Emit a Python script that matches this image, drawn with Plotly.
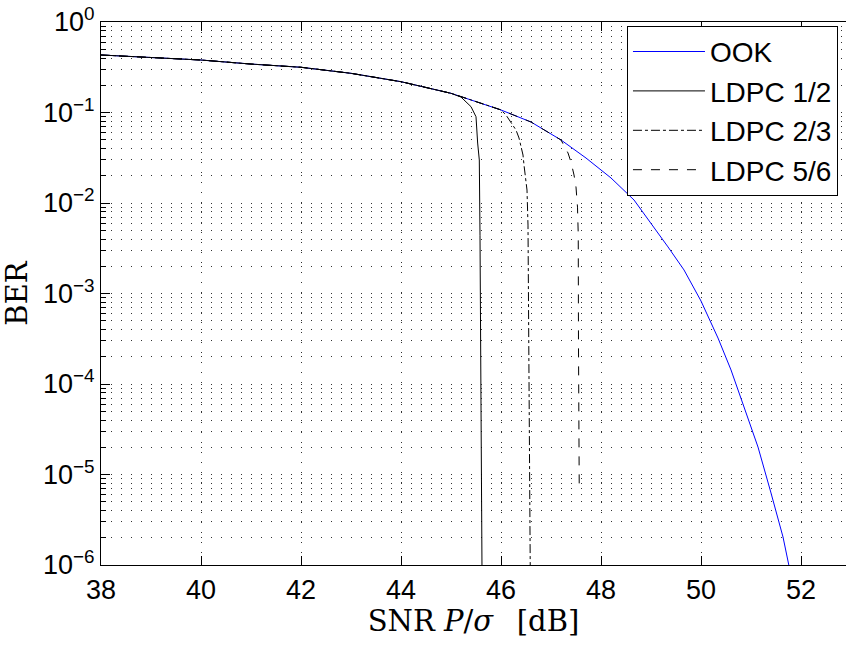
import plotly.graph_objects as go

# ---------------- data ----------------
snr_ook = [38, 39, 40, 41, 42, 43, 44, 45, 46, 46.6, 47.2, 47.7, 48, 48.2, 48.66, 49.06,
           49.34, 49.66, 50, 50.34, 50.6, 50.86, 51.14, 51.4, 51.64, 51.76]
ber_ook = [0.432, 0.407, 0.380, 0.343, 0.316, 0.271, 0.219, 0.163, 0.1066, 0.0785,
           0.0497, 0.0314, 0.0232, 0.0189, 0.0108, 0.00543, 0.00327, 0.00182, 8.26e-4,
           3.22e-4, 1.43e-4, 5.57e-5, 2.01e-5, 6.25e-6, 2.04e-6, 9.75e-7]

snr_ldpc12 = [38, 39, 40, 41, 42, 43, 44, 45, 45.2, 45.4, 45.5, 45.533, 45.566,
              45.58, 45.6, 45.62]
ber_ldpc12 = [0.432, 0.407, 0.380, 0.343, 0.316, 0.271, 0.219, 0.163, 0.148, 0.116,
              0.0898, 0.046, 0.0299, 0.0044, 6.6e-5, 9e-7]

snr_ldpc23 = [38, 39, 40, 41, 42, 43, 44, 45, 46, 46.1, 46.3, 46.36, 46.44, 46.46,
              46.52, 46.54, 46.555, 46.585]
ber_ldpc23 = [0.432, 0.407, 0.380, 0.343, 0.316, 0.271, 0.219, 0.163, 0.107, 0.0938,
              0.064, 0.0523, 0.0339, 0.0263, 0.0139, 0.0057, 2.7e-4, 9e-7]

snr_ldpc56 = [38, 39, 40, 41, 42, 43, 44, 45, 46, 46.6, 47.2, 47.34, 47.4, 47.46,
              47.5, 47.53, 47.545, 47.55, 47.565]
ber_ldpc56 = [0.432, 0.407, 0.380, 0.343, 0.316, 0.271, 0.219, 0.163, 0.1066, 0.0785,
              0.0497, 0.0357, 0.0284, 0.0204, 0.015, 0.009, 0.0045, 2.5e-4, 6.8e-6]

series_names = ["OOK", "LDPC 1/2", "LDPC 2/3", "LDPC 5/6"]

x_ticks = [38, 40, 42, 44, 46, 48, 50, 52]
y_ticks = [1e-6, 1e-5, 1e-4, 1e-3, 1e-2, 1e-1, 1e0]
y_ticktext = ["10<sup>\u22126</sup>", "10<sup>\u22125</sup>", "10<sup>\u22124</sup>",
              "10<sup>\u22123</sup>", "10<sup>\u22122</sup>", "10<sup>\u22121</sup>",
              "10<sup>0</sup>"]
y_minor = [m * 10.0 ** e for e in range(-6, 0) for m in range(2, 10)]

# ---------------- figure ----------------
fig = go.Figure()
fig.add_trace(go.Scatter(x=snr_ook, y=ber_ook, mode="lines", name=series_names[0],
                         line=dict(color="#0000ff", width=1)))
fig.add_trace(go.Scatter(x=snr_ldpc12, y=ber_ldpc12, mode="lines", name=series_names[1],
                         line=dict(color="#000000", width=1)))
fig.add_trace(go.Scatter(x=snr_ldpc23, y=ber_ldpc23, mode="lines", name=series_names[2],
                         line=dict(color="#000000", width=1, dash="dashdot")))
fig.add_trace(go.Scatter(x=snr_ldpc56, y=ber_ldpc56, mode="lines", name=series_names[3],
                         line=dict(color="#000000", width=1, dash="dash")))

grid_dash = "1px,9px"
grid_color = "#333333"
tick_font = dict(family="Liberation Sans, Arial, sans-serif", size=27, color="#000")
title_font = dict(family="DejaVu Serif, serif", size=29, color="#000")

fig.update_layout(
    width=846, height=645,
    margin=dict(l=101, r=0, t=22, b=80, autoexpand=False),
    plot_bgcolor="white", paper_bgcolor="white",
    showlegend=True,
    legend=dict(x=0.706, y=0.993, xanchor="left", yanchor="top",
                bgcolor="white", bordercolor="#000", borderwidth=1,
                font=dict(family="Liberation Sans, Arial, sans-serif", size=28, color="#000"),
                itemwidth=72),
    xaxis=dict(
        range=[38, 52.9], tickmode="array", tickvals=x_ticks,
        ticks="inside", ticklen=9, tickcolor="#000", tickwidth=1,
        showline=True, linecolor="#000", linewidth=1.2, mirror="ticks",
        showgrid=True, gridcolor=grid_color, gridwidth=1, griddash=grid_dash,
        zeroline=False, tickfont=tick_font, ticklabelstandoff=0,
        title=dict(text="SNR <i>P</i>/<i>\u03c3</i>\u2002 [dB]", font=title_font, standoff=4),
    ),
    yaxis=dict(
        type="log", range=[-6, 0], tickmode="array", tickvals=y_ticks, ticktext=y_ticktext,
        ticks="inside", ticklen=9, tickcolor="#000", tickwidth=1,
        showline=True, linecolor="#000", linewidth=1.2, mirror=False,
        showgrid=True, gridcolor=grid_color, gridwidth=1, griddash=grid_dash,
        zeroline=False, tickfont=tick_font,
        minor=dict(tickmode="array", tickvals=y_minor, ticks="inside", ticklen=5,
                   tickcolor="#000", showgrid=True, gridcolor=grid_color, gridwidth=1,
                   griddash=grid_dash),
        title=dict(text="BER", font=title_font, standoff=10),
    ),
)

fig.write_html("out.html")
